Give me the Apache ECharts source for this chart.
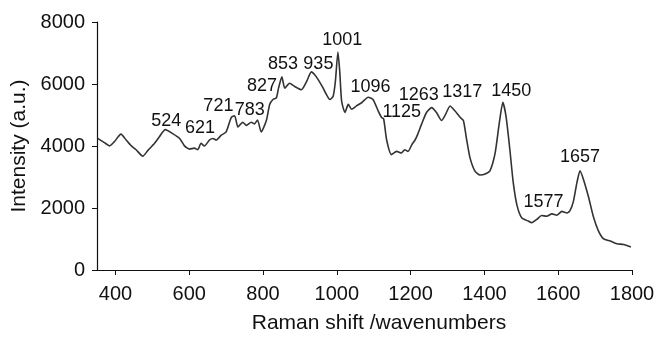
<!DOCTYPE html>
<html>
<head>
<meta charset="utf-8">
<script src="https://cdn.jsdelivr.net/npm/echarts@6/dist/echarts.min.js"></script>
<style>
  html, body { margin: 0; padding: 0; background: #fff; }
  #chart { width: 658px; height: 339px; }
</style>
</head>
<body>
<div id="chart"></div>
<script>
// Raman spectrum
const ramanShift = [
  352, 370, 384, 397, 415, 429, 443, 456, 474, 488, 506, 519, 535, 555, 574, 587,
  601, 614, 623, 632, 641, 655, 664, 673, 687, 700, 714, 723, 732, 745, 755, 768,
  777, 785, 795, 809, 818, 827, 836, 842, 851, 859, 872, 886, 904, 918, 931, 940,
  949, 963, 972, 981, 990, 996, 1003, 1008, 1013, 1022, 1031, 1040, 1053, 1067,
  1085, 1098, 1112, 1121, 1127, 1135, 1148, 1162, 1175, 1184, 1193, 1203, 1212,
  1220, 1230, 1243, 1257, 1270, 1284, 1293, 1307, 1320, 1334, 1343, 1352, 1361,
  1374, 1388, 1402, 1415, 1429, 1440, 1450, 1459, 1469, 1478, 1488, 1501, 1519,
  1528, 1542, 1555, 1569, 1583, 1596, 1610, 1624, 1632, 1641, 1651, 1659, 1668,
  1682, 1695, 1709, 1723, 1741, 1759, 1777, 1797
]
const intensity = [
  4244, 4110, 4005, 4140, 4382, 4194, 4005, 3880, 3670, 3858, 4087, 4297, 4527, 4400, 4244, 4005,
  3900, 3930, 3880, 4087, 4000, 4194, 4244, 4194, 4350, 4454, 4925, 4978, 4611, 4768, 4664, 4768,
  4715, 4840, 4454, 4821, 5342, 5499, 5552, 5866, 6233, 5866, 6023, 5919, 5813, 6076, 6390, 6300,
  6150, 5866, 5656, 5499, 5604, 6076, 7030, 6390, 5448, 5082, 5342, 5185, 5292, 5395,
  5574, 5499, 5135, 4925, 4871, 4194, 3723, 3827, 3773, 3880, 3827, 4037, 4194,
  4400, 4715, 5082, 5238, 5082, 4821, 4978, 5292, 5135, 4925, 4821, 4194, 3617,
  3200, 3065, 3096, 3200, 3773, 4715, 5410, 4925, 3880, 2833, 2102, 1684, 1578,
  1527, 1631, 1757, 1735, 1810, 1766, 1891, 1841, 1913, 2205, 2833, 3200, 2939,
  2362, 1735, 1264, 1004, 932, 847, 825, 743
]

// peak annotations: text and where its centre sits (data units)
const peakLabels     = ['524', '621', '721', '783', '827', '853', '935', '1001', '1096', '1125', '1263', '1317', '1450', '1577', '1657']
const labelShift     = [538, 629, 679, 764, 797, 854, 950, 1015, 1091, 1176, 1222, 1340, 1473, 1560, 1659]
const labelIntensity = [4815, 4589, 5292, 5154, 5919, 6650, 6650, 7409, 5897, 5097, 5630, 5725, 5772, 2180, 3639]

const xTicks = [400, 600, 800, 1000, 1200, 1400, 1600, 1800]

const font = 'Liberation Sans, Arial, Helvetica, sans-serif'
const chart = echarts.init(document.getElementById('chart'))

const option = {
  animation: false,
  backgroundColor: '#fff',
  grid: { left: 97, right: 26, top: 22, bottom: 62 },
  xAxis: {
    type: 'value',
    min: 350,
    max: 1800,
    name: 'Raman shift /wavenumbers',
    nameLocation: 'middle',
    nameGap: 43,
    nameTextStyle: { color: '#111', fontSize: 21, fontFamily: font, padding: [0, 0, 0, 29] },
    axisLine: { lineStyle: { color: '#111', width: 1.2 } },
    axisTick: { length: 5, lineStyle: { color: '#111' }, customValues: xTicks },
    axisLabel: { color: '#111', fontSize: 20, fontFamily: font, margin: 14, customValues: xTicks, formatter: v => String(v) },
    splitLine: { show: false }
  },
  yAxis: {
    type: 'value',
    min: 0,
    max: 8000,
    interval: 2000,
    name: 'Intensity (a.u.)',
    nameLocation: 'middle',
    nameGap: 66,
    nameTextStyle: { color: '#111', fontSize: 21, fontFamily: font },
    axisLine: { show: true, lineStyle: { color: '#111', width: 1.2 } },
    axisTick: { show: true, length: 5, lineStyle: { color: '#111' } },
    axisLabel: { color: '#111', fontSize: 20, fontFamily: font, margin: 12, formatter: v => String(v) },
    splitLine: { show: false }
  },
  series: [
    {
      name: 'spectrum',
      type: 'line',
      smooth: 0.2,
      symbol: 'none',
      lineStyle: { color: '#333', width: 1.6 },
      data: ramanShift.map((x, i) => [x, intensity[i]])
    },
    {
      name: 'peaks',
      type: 'scatter',
      symbolSize: 1,
      silent: true,
      itemStyle: { opacity: 0 },
      label: {
        show: true,
        position: 'inside',
        color: '#111',
        opacity: 1,
        textBorderWidth: 0,
        fontSize: 18,
        fontFamily: font,
        formatter: p => peakLabels[p.dataIndex]
      },
      data: labelShift.map((x, i) => [x, labelIntensity[i]])
    }
  ]
}

chart.setOption(option)
</script>
</body>
</html>
